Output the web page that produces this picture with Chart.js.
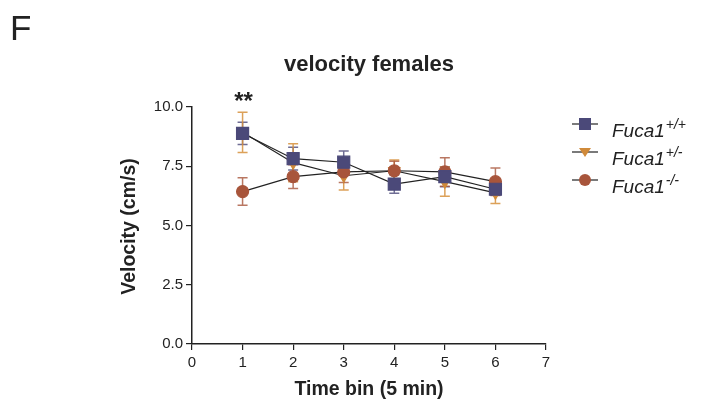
<!DOCTYPE html>
<html>
<head>
<meta charset="utf-8">
<script src="https://cdn.jsdelivr.net/npm/chart.js@4/dist/chart.umd.min.js"></script>
<style>
  html, body { margin: 0; padding: 0; background: #fff; }
  #chart { display: block; }
</style>
</head>
<body>
<canvas id="chart" width="709" height="416"></canvas>
<script>
// Time bins (x values)
const timeBins = [1, 2, 3, 4, 5, 6];

// Mean velocity per genotype
const wtMean = [8.89, 7.82, 7.67, 6.75, 7.06, 6.53];
const hetMean = [8.93, 7.65, 7.10, 7.31, 6.85, 6.38];
const koMean = [6.43, 7.06, 7.26, 7.31, 7.26, 6.85];

// Error (SEM) per genotype
const wtErr = [0.47, 0.48, 0.47, 0.39, 0.42, 0.25];
const hetErr = [0.85, 0.80, 0.60, 0.45, 0.62, 0.45];
const koErr = [0.58, 0.50, 0.45, 0.40, 0.60, 0.58];

// Tick labels
const yTicks = [0, 2.5, 5, 7.5, 10];

const FONT = "'Liberation Sans', Arial, sans-serif";

function toPoints(means, errs) {
  return timeBins.map(function (t, i) {
    return { x: t, y: means[i], err: errs[i] };
  });
}

// Draw error bars using the chart scales
const errorBars = {
  id: "errorBars",
  beforeDatasetsDraw: function (chart) {
    const ctx = chart.ctx;
    const xs = chart.scales.x;
    const ys = chart.scales.y;
    chart.data.datasets.forEach(function (ds) {
      ctx.save();
      ctx.strokeStyle = ds.errColor;
      ctx.lineWidth = 1.5;
      ds.data.forEach(function (p) {
        const px = xs.getPixelForValue(p.x);
        const top = ys.getPixelForValue(p.y + p.err);
        const bot = ys.getPixelForValue(p.y - p.err);
        ctx.beginPath();
        ctx.moveTo(px, top); ctx.lineTo(px, bot);
        ctx.moveTo(px - 5, top); ctx.lineTo(px + 5, top);
        ctx.moveTo(px - 5, bot); ctx.lineTo(px + 5, bot);
        ctx.stroke();
      });
      ctx.restore();
    });
  }
};

// Titles, panel letter, significance and legend
const decorations = {
  id: "decorations",
  afterDraw: function (chart) {
    const ctx = chart.ctx;
    const area = chart.chartArea;
    const xs = chart.scales.x;
    const cx = (area.left + area.right) / 2;
    ctx.save();
    ctx.fillStyle = "#222";

    // panel letter
    ctx.font = "35px " + FONT;
    ctx.textAlign = "left";
    ctx.textBaseline = "alphabetic";
    ctx.fillText("F", 10, 40);

    // title
    ctx.font = "bold 22px " + FONT;
    ctx.textAlign = "center";
    ctx.textBaseline = "middle";
    ctx.fillText("velocity females", cx, 65);

    // axis titles
    ctx.font = "bold 19.5px " + FONT;
    ctx.fillText("Time bin (5 min)", cx, 390);
    ctx.save();
    ctx.translate(130, (area.top + area.bottom) / 2 + 1);
    ctx.rotate(-Math.PI / 2);
    ctx.fillText("Velocity (cm/s)", 0, 0);
    ctx.restore();

    // significance
    ctx.font = "bold 24px " + FONT;
    ctx.textBaseline = "alphabetic";
    ctx.fillText("**", xs.getPixelForValue(1) + 1, 109);

    // legend
    const rows = [124, 152, 180];
    chart.data.datasets.forEach(function (ds, i) {
      const y = rows[i];
      ctx.strokeStyle = "#222";
      ctx.lineWidth = 1.2;
      ctx.beginPath();
      ctx.moveTo(572, y); ctx.lineTo(598, y);
      ctx.stroke();
      ctx.fillStyle = ds.pointBackgroundColor;
      ctx.beginPath();
      if (ds.pointStyle === "rect") {
        ctx.rect(579, y - 6, 12, 12);
      } else if (ds.pointStyle === "triangle") {
        ctx.moveTo(579, y - 4); ctx.lineTo(591, y - 4); ctx.lineTo(585, y + 5);
        ctx.closePath();
      } else {
        ctx.arc(585, y, 6, 0, Math.PI * 2);
      }
      ctx.fill();
      ctx.fillStyle = "#222";
      ctx.textAlign = "left";
      ctx.textBaseline = "alphabetic";
      ctx.font = "italic 19px " + FONT;
      ctx.fillText("Fuca1", 612, y + 13);
      const w = ctx.measureText("Fuca1").width;
      ctx.font = "italic 14px " + FONT;
      ctx.fillText(ds.sup, 612 + w + 1, y + 5);
    });
    ctx.restore();
  }
};

const ctx = document.getElementById("chart").getContext("2d");
new Chart(ctx, {
  type: "line",
  data: {
    datasets: [
      {
        label: "Fuca1+/+",
        sup: "+/+",
        data: toPoints(wtMean, wtErr),
        borderColor: "#222",
        borderWidth: 1.2,
        pointStyle: "rect",
        pointRadius: 8.5,
        pointBackgroundColor: "#4b4979",
        pointBorderColor: "#4b4979",
        errColor: "rgba(75, 73, 121, 0.8)",
        order: 0
      },
      {
        label: "Fuca1+/-",
        sup: "+/-",
        data: toPoints(hetMean, hetErr),
        borderColor: "#222",
        borderWidth: 1.2,
        pointStyle: "triangle",
        pointRotation: 180,
        pointRadius: 6.5,
        pointBackgroundColor: "#d08a3a",
        pointBorderColor: "#d08a3a",
        errColor: "rgba(214, 145, 60, 0.85)",
        order: 2
      },
      {
        label: "Fuca1-/-",
        sup: "-/-",
        data: toPoints(koMean, koErr),
        borderColor: "#222",
        borderWidth: 1.2,
        pointStyle: "circle",
        pointRadius: 6,
        pointBackgroundColor: "#a8553b",
        pointBorderColor: "#a8553b",
        errColor: "rgba(168, 85, 59, 0.8)",
        order: 1
      }
    ]
  },
  options: {
    responsive: false,
    animation: false,
    layout: { padding: { left: 122, right: 163, top: 107, bottom: 48 } },
    plugins: {
      legend: { display: false },
      tooltip: { enabled: false }
    },
    scales: {
      x: {
        type: "linear",
        min: 0,
        max: 7,
        afterFit: function (s) { s.height = 24; },
        ticks: { stepSize: 1, color: "#222", padding: 4, font: { family: FONT, size: 15 } },
        grid: { drawOnChartArea: false, drawTicks: true, tickLength: 6, color: "#222", lineWidth: 1.2 },
        border: { color: "#222", width: 1.5 }
      },
      y: {
        type: "linear",
        min: 0,
        max: 10,
        afterFit: function (s) { s.width = 70; },
        afterBuildTicks: function (s) { s.ticks = yTicks.map(function (v) { return { value: v }; }); },
        ticks: {
          color: "#222",
          padding: 3,
          font: { family: FONT, size: 15 },
          callback: function (v) { return v.toFixed(1); }
        },
        grid: { drawOnChartArea: false, drawTicks: true, tickLength: 6, color: "#222", lineWidth: 1.2 },
        border: { color: "#222", width: 1.5 }
      }
    }
  },
  plugins: [errorBars, decorations]
});
</script>
</body>
</html>
